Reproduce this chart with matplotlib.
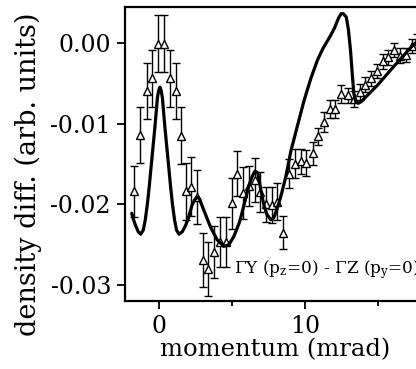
import matplotlib
matplotlib.use("Agg")
import matplotlib.pyplot as plt
import numpy as np

# measured data (triangles with error bars)
x_data = [-1.68, -1.27, -0.83, -0.44, -0.05, 0.34, 0.76, 1.14, 1.53, 1.88,
          2.20, 2.62, 3.00, 3.37, 3.79, 4.20, 4.61, 4.98, 5.37, 5.77,
          6.17, 6.56, 6.95, 7.34, 7.73, 8.12, 8.50, 8.92, 9.31, 9.72,
          10.07, 10.53, 10.87, 11.29, 11.72, 12.09, 12.48, 12.94, 13.34, 13.74,
          14.13, 14.52, 14.92, 15.32, 15.71, 16.11, 16.51, 16.90, 17.30, 17.69]
y_data = [-0.0184, -0.0114, -0.0060, -0.0044, -0.0001, -0.0001, -0.0044, -0.0060, -0.0115, -0.0184,
          -0.0178, -0.0191, -0.0269, -0.0280, -0.0259, -0.0247, -0.0247, -0.0199, -0.0162, -0.0186,
          -0.0177, -0.0170, -0.0185, -0.0200, -0.0201, -0.0197, -0.0235, -0.0162, -0.0150, -0.0147,
          -0.0149, -0.0137, -0.0116, -0.0098, -0.0082, -0.0082, -0.0063, -0.0065, -0.0070, -0.0061,
          -0.0052, -0.0044, -0.0035, -0.0023, -0.0018, -0.0009, -0.0016, -0.0015, -0.0004, 0.0002]
y_err = [0.0032, 0.0035, 0.0035, 0.0035, 0.0035, 0.0035, 0.0035, 0.0035, 0.0035, 0.0035,
         0.0036, 0.0033, 0.0033, 0.0033, 0.0032, 0.0031, 0.0031, 0.0032, 0.0028, 0.0032,
         0.0025, 0.0027, 0.0025, 0.0022, 0.0022, 0.0023, 0.0020, 0.0018, 0.0018, 0.0016,
         0.0016, 0.0014, 0.0010, 0.0012, 0.0011, 0.0011, 0.0011, 0.0009, 0.0010, 0.0010,
         0.0009, 0.0009, 0.0009, 0.0009, 0.0009, 0.0009, 0.0009, 0.0009, 0.0009, 0.0009]

# theory curve
x_curve = [-1.86, -1.72, -1.58, -1.41, -1.24, -1.07, -0.93, -0.79, -0.65, -0.52,
           -0.38, -0.27, -0.17, -0.10, -0.013, 0.07, 0.153, 0.24, 0.31, 0.41,
           0.52, 0.66, 0.79, 0.93, 1.07, 1.21, 1.38, 1.60, 1.81, 2.02,
           2.27, 2.43, 2.62, 2.77, 3.07, 3.53, 3.99, 4.45, 4.79, 5.13,
           5.48, 5.60, 5.94, 6.18, 6.40, 6.58, 6.77, 6.98, 7.18, 7.38,
           7.66, 7.86, 8.07, 8.34, 8.69, 9.04, 9.50, 9.95, 10.41, 10.87,
           11.24, 11.60, 11.79, 12.02, 12.29, 12.48, 12.62, 12.83, 12.98, 13.12,
           13.24, 13.35, 13.48, 13.65, 13.85, 15.00, 16.15, 17.30, 17.71]
y_curve = [-0.0211, -0.0220, -0.0227, -0.0234, -0.0237, -0.0232, -0.0219, -0.0200, -0.0176, -0.0151,
           -0.0125, -0.0104, -0.0083, -0.0068, -0.0059, -0.0055, -0.0059, -0.0068, -0.0083, -0.0104,
           -0.0125, -0.0151, -0.0176, -0.0200, -0.0219, -0.0232, -0.0237, -0.0234, -0.0227, -0.0217,
           -0.0201, -0.0195, -0.0191, -0.0193, -0.0207, -0.0228, -0.0244, -0.0252, -0.0250, -0.0240,
           -0.0224, -0.0217, -0.0193, -0.0176, -0.0165, -0.0159, -0.0161, -0.0182, -0.0200, -0.0212,
           -0.0219, -0.0217, -0.0207, -0.0191, -0.0166, -0.0134, -0.0102, -0.0071, -0.0044, -0.0021,
           -0.0007, 0.0004, 0.0010, 0.0018, 0.0030, 0.0036, 0.0036, 0.0032, 0.0016, -0.0009,
           -0.0038, -0.0063, -0.0073, -0.0075, -0.0073, -0.0052, -0.0028, -0.0005, 0.0001]

label_text = r"$\Gamma$Y (p$_\mathregular{z}$=0) - $\Gamma$Z (p$_\mathregular{y}$=0)"

plt.rcParams['font.family'] = ['DejaVu Serif']
plt.rcParams['mathtext.fontset'] = 'dejavuserif'

fig = plt.figure(figsize=(4.16, 3.69), dpi=100)
ax = fig.add_axes([0.3005, 0.1843, 1.084 - 0.3005, 0.981 - 0.1843])

ax.errorbar(x_data, y_data, yerr=y_err, fmt='^', color='black', mfc='white', mec='black',
            ms=5.5, mew=1.0, elinewidth=1.0, capsize=3.0, capthick=1.0, zorder=2)
ax.plot(x_curve, y_curve, color='black', lw=2.3, zorder=3,
        solid_joinstyle='round', solid_capstyle='round')

ax.text(5.13, -0.0281, label_text, fontsize=12.2, ha='left', va='center')

ax.set_xlim(-2.32, 20)
ax.set_ylim(-0.03197, 0.00442)
ax.set_xticks([0, 10])
ax.set_xticks([5, 15], minor=True)
ax.set_yticks([0.0, -0.01, -0.02, -0.03])
ax.set_yticklabels(['0.00', '-0.01', '-0.02', '-0.03'])
ax.tick_params(axis='both', which='major', direction='out', length=6, width=1.3, labelsize=17)
ax.tick_params(axis='x', which='minor', direction='out', length=3.5, width=1.3)
ax.tick_params(axis='x', pad=4)
ax.tick_params(axis='y', pad=4)
for s in ax.spines.values():
    s.set_linewidth(1.6)

ax.set_xlabel('momentum (mrad)', fontsize=17.5, va='center')
ax.xaxis.set_label_coords(0.46, (301 - 350) / 294)
ax.set_ylabel('density diff. (arb. units)', fontsize=19.5, va='center')
ax.yaxis.set_label_coords(-0.2975, (301 - 174) / 294)

fig.savefig('out.png', dpi=100)
